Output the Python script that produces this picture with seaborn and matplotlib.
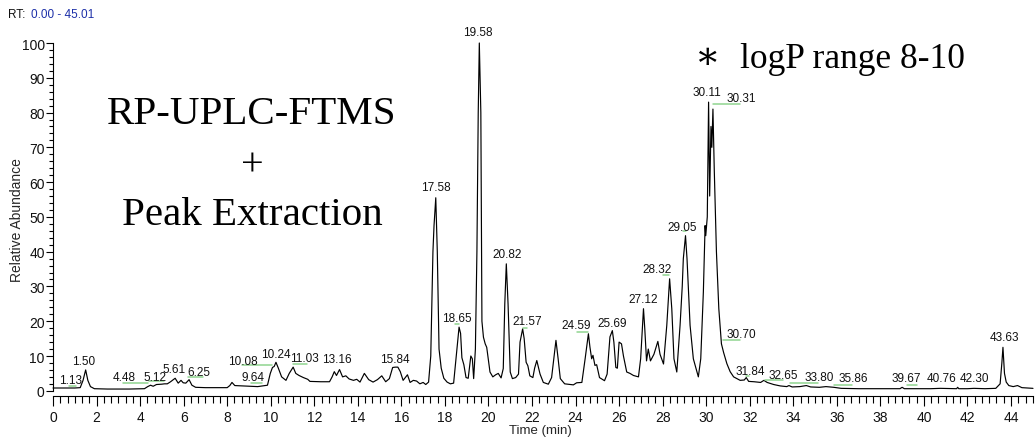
import matplotlib
matplotlib.use("Agg")
import matplotlib.pyplot as plt
from matplotlib import font_manager as fm
from matplotlib.ticker import MultipleLocator
import numpy as np
import pandas as pd
import seaborn as sns

# ---- chromatogram trace: retention time (min) and relative abundance (%) ----
rt_min = [
    0.00, 0.50, 1.00, 1.25, 1.38, 1.50, 1.60, 1.72, 1.90, 2.50, 3.50, 4.20,
    4.35, 4.48, 4.60, 4.75, 5.00, 5.12, 5.25, 5.40, 5.61, 5.75, 5.88, 5.98,
    6.10, 6.25, 6.38, 6.55, 7.00, 8.00, 8.12, 8.22, 8.35, 8.70, 9.00, 9.40,
    9.64, 9.85, 9.98, 10.08, 10.16, 10.24, 10.35, 10.50, 10.70, 10.85, 11.03,
    11.15, 11.30, 11.50, 11.70, 11.80, 12.30, 12.70, 12.82, 12.92, 13.02,
    13.16, 13.30, 13.45, 13.60, 13.80, 13.95, 14.10, 14.30, 14.50, 14.70,
    14.90, 15.10, 15.28, 15.45, 15.60, 15.72, 15.84, 15.95, 16.08, 16.28,
    16.40, 16.55, 16.70, 16.85, 17.00, 17.12, 17.25, 17.35, 17.45, 17.50,
    17.58, 17.65, 17.73, 17.83, 17.95, 18.10, 18.25, 18.40, 18.52, 18.65,
    18.72, 18.78, 18.87, 18.97, 19.07, 19.19, 19.26, 19.32, 19.40, 19.47,
    19.53, 19.58, 19.65, 19.70, 19.77, 19.85, 19.92, 20.07, 20.20, 20.33,
    20.45, 20.58, 20.68, 20.75, 20.82, 20.90, 21.00, 21.10, 21.25, 21.38,
    21.45, 21.57, 21.64, 21.73, 21.81, 21.90, 22.04, 22.12, 22.22, 22.37,
    22.52, 22.75, 22.90, 23.10, 23.20, 23.30, 23.50, 23.90, 24.05, 24.29,
    24.44, 24.59, 24.66, 24.74, 24.80, 24.89, 24.97, 25.10, 25.33, 25.45,
    25.58, 25.69, 25.76, 25.85, 25.92, 26.00, 26.11, 26.20, 26.35, 26.50,
    26.66, 26.89, 26.99, 27.12, 27.18, 27.26, 27.34, 27.44, 27.60, 27.78,
    27.88, 28.04, 28.19, 28.32, 28.42, 28.52, 28.65, 28.80, 28.90, 28.95,
    29.05, 29.12, 29.26, 29.41, 29.64, 29.75, 29.87, 29.95, 29.98, 30.05,
    30.11, 30.16, 30.22, 30.26, 30.31, 30.37, 30.47, 30.58, 30.70, 30.80,
    30.95, 31.10, 31.26, 31.56, 31.75, 31.84, 31.95, 32.20, 32.50, 32.65,
    32.80, 33.10, 33.40, 33.70, 33.80, 33.95, 34.30, 34.60, 34.80, 35.20,
    35.50, 35.86, 36.20, 37.00, 38.00, 38.90, 39.00, 39.10, 39.67, 40.30,
    40.76, 41.50, 41.55, 41.60, 42.00, 42.30, 42.80, 43.30, 43.50, 43.58,
    43.63, 43.70, 43.78, 43.90, 44.10, 44.30, 44.50, 44.80, 45.01,
]
rel_abundance = [
    0.8, 0.8, 0.8, 0.9, 3.0, 6.0, 3.0, 1.2, 0.6, 0.5, 0.5, 0.6,
    1.2, 1.6, 1.3, 1.8, 1.9, 2.0, 2.0, 2.6, 3.6, 2.2, 3.0, 2.3,
    2.2, 3.2, 1.6, 1.0, 0.9, 0.9, 1.5, 2.4, 1.5, 1.4, 1.3, 1.2,
    1.4, 1.6, 5.0, 6.7, 7.0, 8.2, 6.5, 4.0, 3.0, 5.0, 6.8,
    5.0, 4.4, 3.8, 3.3, 2.7, 2.6, 2.6, 4.0, 5.5, 4.4,
    6.1, 4.0, 4.3, 3.4, 3.0, 3.3, 2.5, 5.0, 3.2, 2.5,
    3.2, 4.3, 2.6, 3.5, 6.7, 6.8, 6.8, 5.5, 3.0, 4.6,
    2.4, 3.0, 2.8, 2.0, 2.4, 1.8, 2.5, 10.0, 40.0, 47.5,
    55.5, 40.0, 12.0, 6.5, 3.6, 2.5, 2.0, 2.2, 10.0, 18.3,
    16.5, 9.5, 7.5, 3.8, 3.6, 10.0, 9.2, 3.5, 12.0, 40.0,
    80.0, 100.0, 80.0, 20.0, 15.4, 13.5, 12.5, 5.4, 4.0, 4.6,
    5.0, 3.7, 6.4, 25.0, 36.5, 25.0, 5.4, 3.5, 3.8, 4.8,
    14.0, 17.8, 15.0, 8.2, 7.2, 4.3, 3.8, 6.5, 8.7, 4.8,
    2.4, 1.9, 3.8, 14.5, 9.2, 3.5, 2.0, 1.7, 2.3, 2.4,
    9.2, 16.4, 12.6, 9.2, 10.2, 7.3, 7.5, 3.8, 2.9, 4.8,
    15.5, 17.3, 14.0, 6.7, 6.5, 14.0, 13.5, 10.0, 5.4, 5.0,
    4.4, 4.0, 9.2, 23.6, 17.8, 8.6, 12.0, 8.6, 10.5, 14.2,
    10.5, 7.7, 18.8, 32.2, 23.6, 9.2, 5.4, 18.8, 30.0, 38.0,
    44.6, 37.9, 18.8, 9.2, 4.0, 9.2, 28.4, 47.5, 44.6, 50.0,
    83.0, 56.0, 76.0, 70.0, 81.0, 63.8, 40.0, 23.6, 13.5, 11.0,
    7.8, 5.5, 4.0, 3.0, 3.1, 3.8, 2.7, 2.6, 2.4, 3.0,
    2.4, 1.8, 1.4, 1.2, 1.5, 1.1, 1.2, 1.5, 1.1, 1.0,
    1.2, 1.0, 0.7, 0.6, 0.6, 0.6, 1.0, 0.6, 0.6, 0.6,
    0.7, 0.6, 1.0, 0.6, 0.6, 0.7, 0.6, 0.7, 2.0, 8.0,
    12.5, 5.0, 2.5, 1.5, 1.2, 1.5, 0.9, 0.8, 0.7,
]

# ---- labelled peaks (retention times in min) ----
peak_rt = [1.13, 1.50, 4.48, 5.12, 5.61, 6.25, 10.08, 9.64, 10.24, 11.03,
           13.16, 15.84, 17.58, 18.65, 19.58, 20.82, 21.57, 24.59, 25.69,
           27.12, 28.32, 29.05, 30.11, 30.31, 30.70, 31.84, 32.65, 33.80,
           35.86, 39.67, 40.76, 42.30, 43.63]

# label anchor (text centre) in data units, same order as peak_rt
label_xy = [(0.80, 3.0), (1.42, 8.5), (3.28, 3.9), (4.70, 3.9), (5.55, 6.2),
            (6.68, 5.5), (8.74, 8.5), (9.17, 3.9), (10.25, 10.6), (11.55, 9.5),
            (13.03, 9.0), (15.71, 9.0), (17.59, 58.7), (18.54, 20.9),
            (19.52, 103.2), (20.84, 39.4), (21.76, 20.0), (24.05, 18.8),
            (25.69, 19.5), (27.12, 26.4), (27.76, 35.0), (28.90, 47.2),
            (30.03, 85.8), (31.60, 84.1), (31.60, 16.4), (32.02, 5.8),
            (33.55, 4.6), (35.20, 3.9), (36.76, 3.6), (39.18, 3.6),
            (40.79, 3.6), (42.30, 3.6), (43.68, 15.4)]

# leader underlines (x0, x1, y) linking offset labels to their peaks
leaders = [(0.75, 1.06, 1.35), (3.23, 4.38, 2.3), (4.42, 5.10, 2.8),
           (6.22, 6.88, 3.9), (8.70, 10.04, 7.3), (9.10, 9.59, 2.3),
           (11.00, 11.65, 7.8), (18.47, 18.65, 19.3), (21.57, 21.76, 18.1),
           (24.05, 24.59, 17.0), (28.00, 28.31, 33.3), (28.92, 29.05, 45.8),
           (30.33, 31.53, 82.5), (30.76, 31.56, 14.5), (31.83, 31.98, 4.2),
           (32.70, 33.55, 3.2), (33.85, 35.15, 2.2), (35.87, 36.69, 1.7),
           (39.21, 39.70, 1.7)]


def first_font(names, default="DejaVu Sans"):
    for n in names:
        try:
            fm.findfont(fm.FontProperties(family=n), fallback_to_default=False)
            return n
        except ValueError:
            continue
    return default


sns.set_theme(style="ticks")
sans = first_font(["Liberation Sans", "Arial"])
narrow = first_font(["Liberation Sans Narrow", "DejaVu Sans Condensed", "Liberation Sans"])
serif = first_font(["Liberation Serif", "DejaVu Serif"])
plt.rcParams["font.family"] = [sans, "DejaVu Sans"]

fig = plt.figure(figsize=(10.35, 4.39), dpi=100)
ax = fig.add_axes([53 / 1035, 42 / 439, 980 / 1035, 353 / 439])

df = pd.DataFrame({"Time (min)": rt_min, "Relative Abundance": rel_abundance})
sns.lineplot(data=df, x="Time (min)", y="Relative Abundance", ax=ax,
             color="black", linewidth=0.85, estimator=None, sort=False)
for ln in ax.lines:
    ln.set_clip_on(False)

ax.set_xlim(0, 45.01)
ax.set_ylim(-1.5, 100)

for side in ("top", "right"):
    ax.spines[side].set_visible(False)
for side in ("left", "bottom"):
    ax.spines[side].set_linewidth(0.8)
    ax.spines[side].set_color("black")
ax.spines["left"].set_bounds(0, 100)

ax.xaxis.set_major_locator(MultipleLocator(2))
ax.xaxis.set_minor_locator(MultipleLocator(1 / 3))
ax.yaxis.set_major_locator(MultipleLocator(10))
ax.yaxis.set_minor_locator(MultipleLocator(2))
ax.set_yticks(np.arange(0, 101, 10))
ax.tick_params(axis="x", which="major", length=7, width=0.8, color="black",
               labelsize=10, pad=3)
ax.tick_params(axis="x", which="minor", length=5, width=0.8, color="black")
ax.tick_params(axis="y", which="major", length=5, width=0.8, color="black",
               labelsize=10, pad=1)
ax.tick_params(axis="y", which="minor", length=3, width=0.8, color="black")
for lab in ax.get_xticklabels() + ax.get_yticklabels():
    lab.set_fontfamily(narrow)
    lab.set_color("#111111")

ax.set_xlabel("Time (min)", fontsize=9.5, family=narrow)
ax.set_ylabel("Relative Abundance", fontsize=10, family=sans)
ax.xaxis.set_label_coords(0.497, -0.078)
ax.yaxis.set_label_coords(-0.030, 0.5)

# peak annotations
for rt, (lx, ly) in zip(peak_rt, label_xy):
    ax.text(lx, ly, f"{rt:.2f}", ha="center", va="center", fontsize=8.5,
            family=narrow, color="#111111", clip_on=False)
for x0, x1, y in leaders:
    ax.plot([x0, x1], [y, y], color="#8fd48f", linewidth=1.1, clip_on=False)

# method annotations
ax.text(0.203, 0.80, "RP-UPLC-FTMS", transform=ax.transAxes, ha="center",
        va="center", fontsize=29.5, family=serif, color="black")
ax.text(0.203, 0.655, "+", transform=ax.transAxes, ha="center",
        va="center", fontsize=29, family=serif, color="black")
ax.text(0.203, 0.513, "Peak Extraction", transform=ax.transAxes, ha="center",
        va="center", fontsize=29.5, family=serif, color="black")
ax.text(0.667, 0.96, "\u2217", transform=ax.transAxes, ha="center",
        va="center", fontsize=27, family=["DejaVu Serif"], color="black")
ax.text(0.701, 0.955, "logP range 8-10", transform=ax.transAxes, ha="left",
        va="center", fontsize=25.5, family=serif, color="black")

# retention-time window header
fig.text(8 / 1035, 1 - 15 / 439, "RT:", ha="left", va="center", fontsize=8.5,
         family=narrow, color="#111111")
fig.text(31 / 1035, 1 - 15 / 439, "0.00 - 45.01", ha="left", va="center",
         fontsize=8.5, family=narrow, color="#1c2fa8")

fig.savefig("out.png", dpi=100)
